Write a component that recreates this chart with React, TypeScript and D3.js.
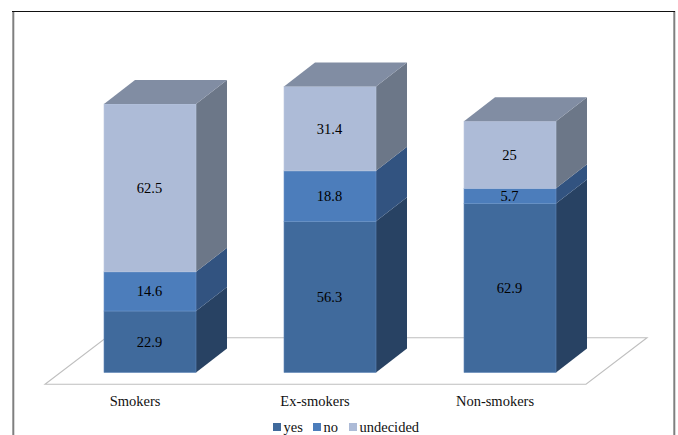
import React from "react";
import * as d3 from "d3";

const categories = ["Smokers", "Ex-smokers", "Non-smokers"];
const seriesNames = ["yes", "no", "undecided"];
const yes = [22.9, 56.3, 62.9];
const no = [14.6, 18.8, 5.7];
const undecided = [62.5, 31.4, 25];
const valueLabels = [
  ["22.9", "56.3", "62.9"],
  ["14.6", "18.8", "5.7"],
  ["62.5", "31.4", "25"],
];
const frontColors = ["#406a9c", "#4c7dbb", "#adbbd7"];
const sideColors = ["#284263", "#325380", "#6c7788"];
const topColor = "#818da3";
const edgeColors = ["#5f86b8", "#6c95c9", "#bcc8df"];
const fontFamily = "'Liberation Serif', 'Times New Roman', serif";

const W = 678;
const H = 435;
const barWidth = 92;
const depthX = 31;
const depthY = 24;

// bar centres along the floor; category captions sit on the projected front edge
const x = d3.scalePoint<string>().domain(categories).range([150, 510]);
const captionX = d3.scalePoint<string>().domain(categories).range([135, 495]);
const y = d3.scaleLinear().domain([0, 100]).range([372.5, 104]);

const rows = categories.map((category, i) => ({ category, yes: yes[i], no: no[i], undecided: undecided[i] }));
const stacked = d3.stack<any>().keys(seriesNames)(rows);

const poly = (pts: [number, number][]) => d3.line()(pts) + "Z";

export default function App() {
  const floorFrontY = y(0) + 11.7;
  const floorBackY = y(0) - 34.7;
  const floor = poly([
    [45, floorFrontY],
    [586, floorFrontY],
    [647, floorBackY],
    [106, floorBackY],
  ]);

  return (
    <svg
      width={W}
      height={H}
      viewBox={`0 0 ${W} ${H}`}
      style={{ position: "fixed", left: 0, top: 0, background: "#fff" }}
      fontFamily={fontFamily}
    >
      {/* chart frame: no rule along the bottom edge */}
      <line x1={13.3} x2={13.3} y1={11} y2={H} stroke="#7f7f7f" strokeWidth={2} />
      <line x1={674.3} x2={674.3} y1={11} y2={H} stroke="#7f7f7f" strokeWidth={2} />
      <line x1={12} x2={675} y1={11.5} y2={11.5} stroke="#111" strokeWidth={1.2} />

      <path d={floor} fill="#fff" stroke="#bfbfbf" strokeWidth={1.1} />

      {categories.map((category, i) => {
        const left = x(category)! - barWidth / 2;
        const right = left + barWidth;
        return (
          <g key={category}>
            {stacked.map((layer, s) => {
              const y0 = y(layer[i][0]);
              const y1 = y(layer[i][1]);
              return (
                <g key={layer.key}>
                  <path
                    d={poly([
                      [right, y0],
                      [right + depthX, y0 - depthY],
                      [right + depthX, y1 - depthY],
                      [right, y1],
                    ])}
                    fill={sideColors[s]}
                  />
                  <rect
                    x={left}
                    y={y1}
                    width={barWidth}
                    height={y0 - y1}
                    fill={frontColors[s]}
                    stroke={edgeColors[s]}
                    strokeWidth={0.6}
                  />
                  {s === stacked.length - 1 && (
                    <path
                      d={poly([
                        [left, y1],
                        [left + depthX, y1 - depthY],
                        [right + depthX, y1 - depthY],
                        [right, y1],
                      ])}
                      fill={topColor}
                    />
                  )}
                  <text
                    x={left + barWidth / 2 - 0.5}
                    y={(y0 + y1) / 2 + 5}
                    fontSize={14.5}
                    textAnchor="middle"
                    fill="#000"
                  >
                    {valueLabels[s][i]}
                  </text>
                </g>
              );
            })}
            <text x={captionX(category)!} y={406} fontSize={14.5} textAnchor="middle" fill="#111">
              {category}
            </text>
          </g>
        );
      })}

      {/* legend */}
      {seriesNames.map((name, s) => (
        <g key={name}>
          <rect x={[273, 313, 349][s]} y={423} width={8} height={8} fill={frontColors[s]} />
          <text x={[283.5, 323.5, 359.5][s]} y={432} fontSize={14.5} fill="#111">
            {name}
          </text>
        </g>
      ))}
    </svg>
  );
}
